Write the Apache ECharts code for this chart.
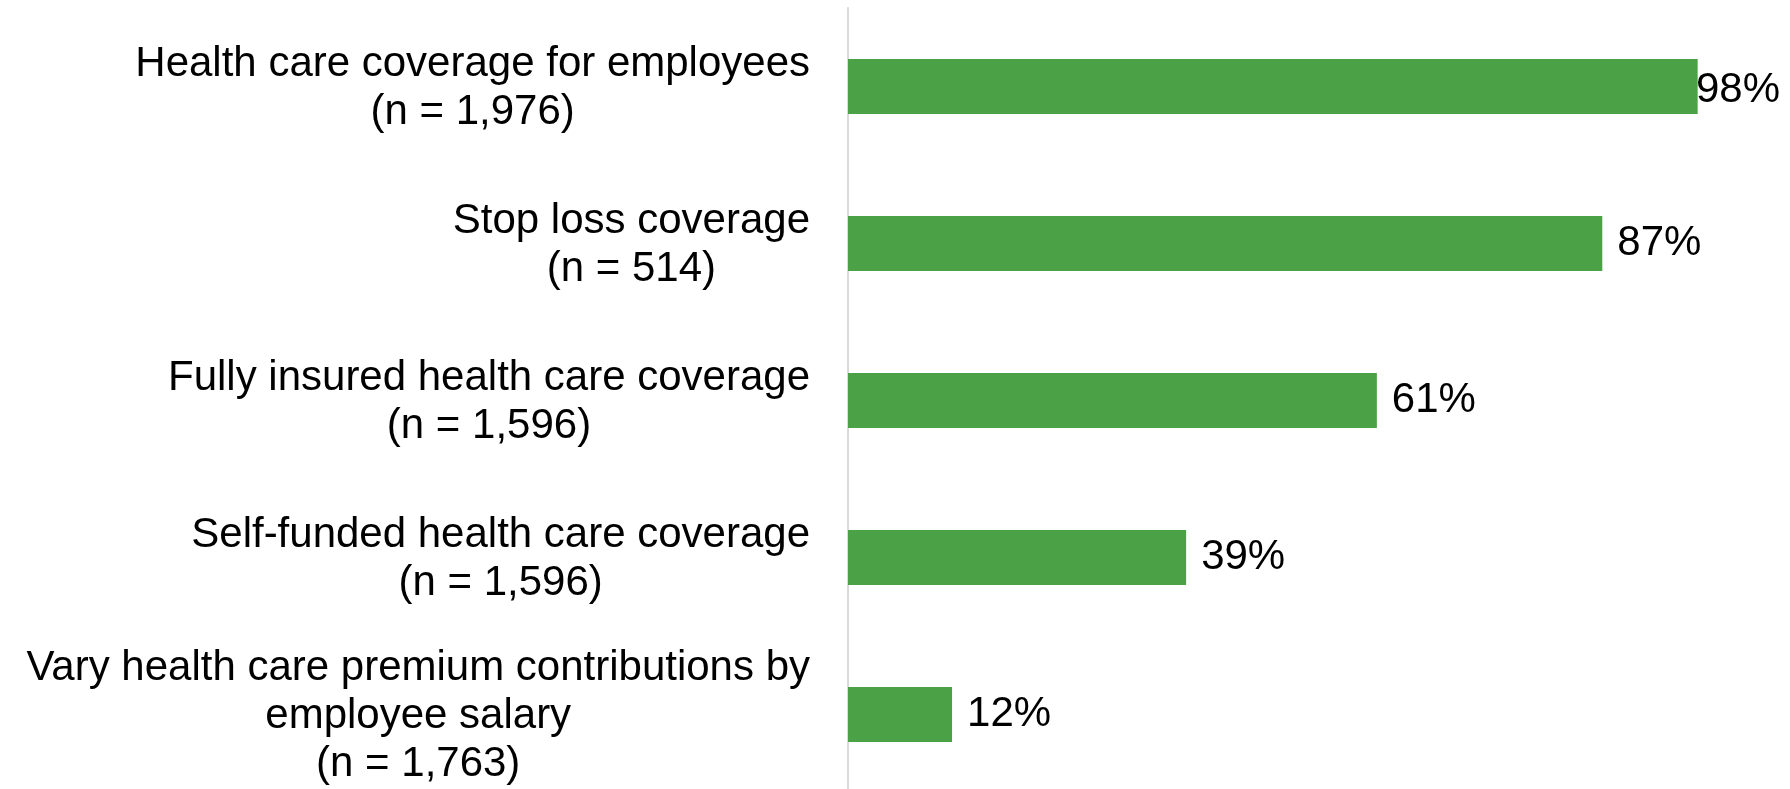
<!DOCTYPE html>
<html>
<head>
<meta charset="utf-8">
<style>
  html, body { margin: 0; padding: 0; background: #ffffff; }
  #chart { width: 1790px; height: 789px; }
</style>
<script src="https://cdn.jsdelivr.net/npm/echarts@6/dist/echarts.min.js"></script>
</head>
<body>
<div id="chart"></div>
<script>
// Survey items (top to bottom), their sample sizes and the share offering each
const itemNames = [
  'Health care coverage for employees',
  'Stop loss coverage',
  'Fully insured health care coverage',
  'Self-funded health care coverage',
  'Vary health care premium contributions by\nemployee salary'
];
const sampleSizes = [1976, 514, 1596, 1596, 1763];
const percentOffering = [98, 87, 61, 39, 12];

const FONT = "'Liberation Sans', Arial, sans-serif";

const categories = itemNames.map(function (name, i) {
  return name + '\n(n = ' + sampleSizes[i].toLocaleString('en-US') + ')';
});

const chart = echarts.init(document.getElementById('chart'), null, { renderer: 'canvas' });

chart.setOption({
  animation: false,
  backgroundColor: '#ffffff',
  grid: {
    left: 848,
    right: 75,
    top: 8,
    height: 785,
    outerBoundsMode: 'none'
  },
  xAxis: {
    type: 'value',
    min: 0,
    max: 100,
    show: false,
    splitLine: { show: false }
  },
  yAxis: {
    type: 'category',
    inverse: true,
    data: categories,
    axisLine: { show: true, lineStyle: { color: '#d9d9d9', width: 2 } },
    axisTick: { show: false },
    splitLine: { show: false },
    axisLabel: {
      margin: 38,
      color: '#000000',
      fontFamily: FONT,
      fontSize: 42,
      lineHeight: 48,
      padding: [4, 0, 0, 0],
      // each line centred within the right-aligned label block
      formatter: function (value) {
        return value.split('\n').map(function (line) {
          return '{c|' + line + '}';
        }).join('\n');
      },
      rich: {
        c: {
          align: 'center',
          color: '#000000',
          fontFamily: FONT,
          fontSize: 42,
          lineHeight: 48
        }
      }
    }
  },
  series: [{
    type: 'bar',
    data: percentOffering,
    barWidth: 55,
    itemStyle: { color: '#4ba146' },
    label: {
      show: true,
      position: 'right',
      distance: 15,
      offset: [0, 4],
      align: 'left',
      verticalAlign: 'middle',
      color: '#000000',
      fontFamily: FONT,
      fontSize: 42,
      formatter: '{c}%'
    },
    // keep value labels inside the canvas
    labelLayout: function (params) {
      const limit = chart.getWidth() - 10;
      const r = params.labelRect;
      if (r.x + r.width > limit) {
        return { x: limit - r.width, y: r.y + r.height / 2 };
      }
      return {};
    }
  }]
});
</script>
</body>
</html>
